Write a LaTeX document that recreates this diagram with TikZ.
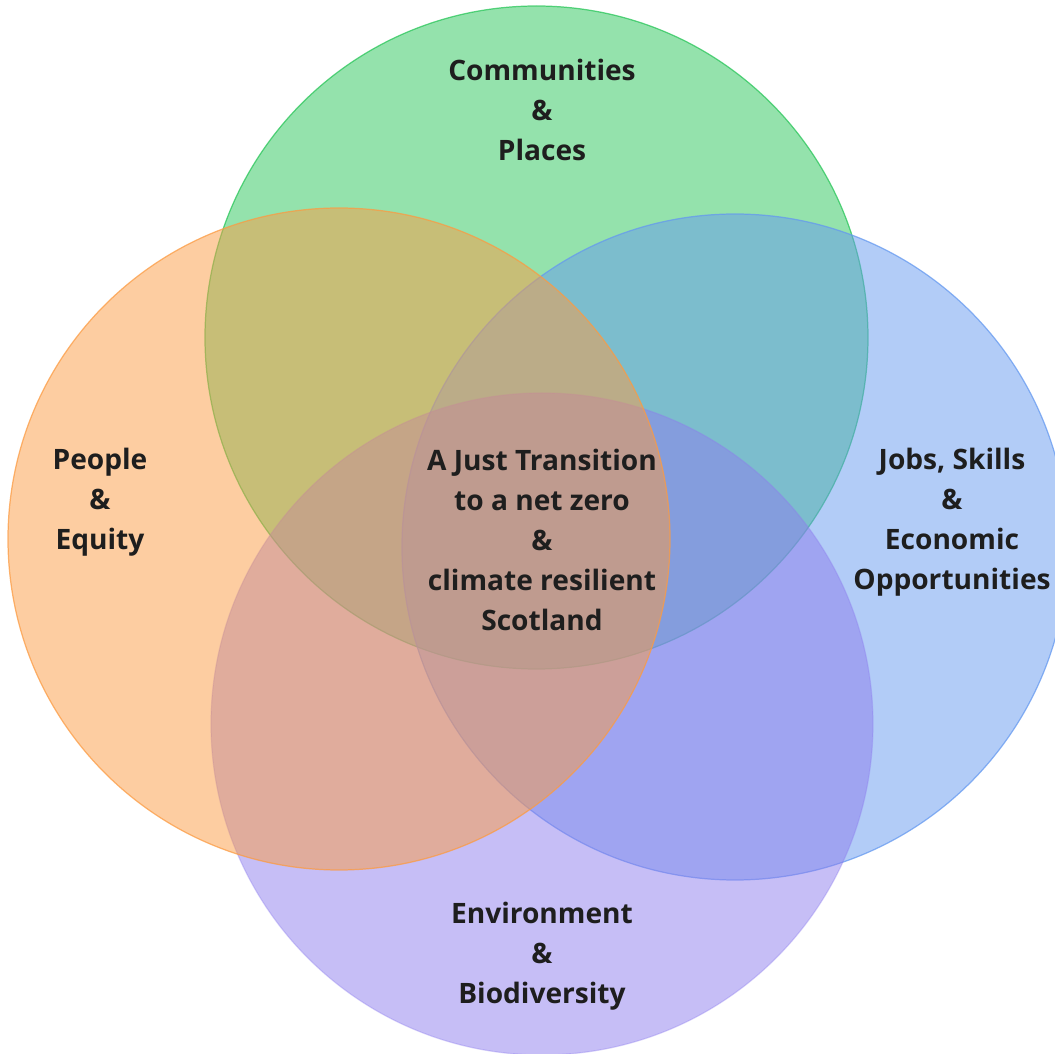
\documentclass[tikz,border=0pt]{standalone}
\usepackage{fontspec}
\setmainfont{Open Sans}
\definecolor{cgreen}{RGB}{41,197,89}
\definecolor{corange}{RGB}{251,155,67}
\definecolor{cblue}{RGB}{101,153,239}
\definecolor{cpurple}{RGB}{141,125,237}
\definecolor{ink}{RGB}{30,30,30}
\tikzset{
  venn/.style={circle, inner sep=0pt, fill=#1, draw=#1, fill opacity=0.5, draw opacity=0.75, line width=0.35pt},
  label text/.style={align=center, inner sep=0pt, text=ink,
    font=\fontsize{8.0}{11.4}\selectfont\bfseries}
}
\begin{document}
\begin{tikzpicture}[x=1cm,y=1cm]
  \useasboundingbox (0,0) rectangle (10.55,-10.54);
  \clip (0,0) rectangle (10.55,-10.54);
  % the four overlapping themes
  \node[venn=cgreen,  minimum size=6.63cm] (communities) at (5.365,-3.375) {};
  \node[venn=cblue,   minimum size=6.66cm] (jobs)        at (7.35,-5.47) {};
  \node[venn=cpurple, minimum size=6.62cm, draw opacity=0.35] (environment) at (5.42,-7.24) {};
  \node[venn=corange, minimum size=6.62cm] (people)      at (3.39,-5.39) {};
  % labels
  \node[label text] (communitiesText) at (5.42,-1.10) {Communities\\\&\\Places};
  \node[label text] (peopleText) at (1.00,-5.02) {People\\\&\\Equity};
  \node[label text] (jobsText) at (9.52,-5.22) {Jobs, Skills\\\&\\Economic\\Opportunities};
  \node[label text] (environmentText) at (5.42,-9.56) {Environment\\\&\\Biodiversity};
  \node[label text] (centreText) at (5.42,-5.40) {A Just Transition\\to a net zero\\\&\\climate resilient\\Scotland};
\end{tikzpicture}
\end{document}
